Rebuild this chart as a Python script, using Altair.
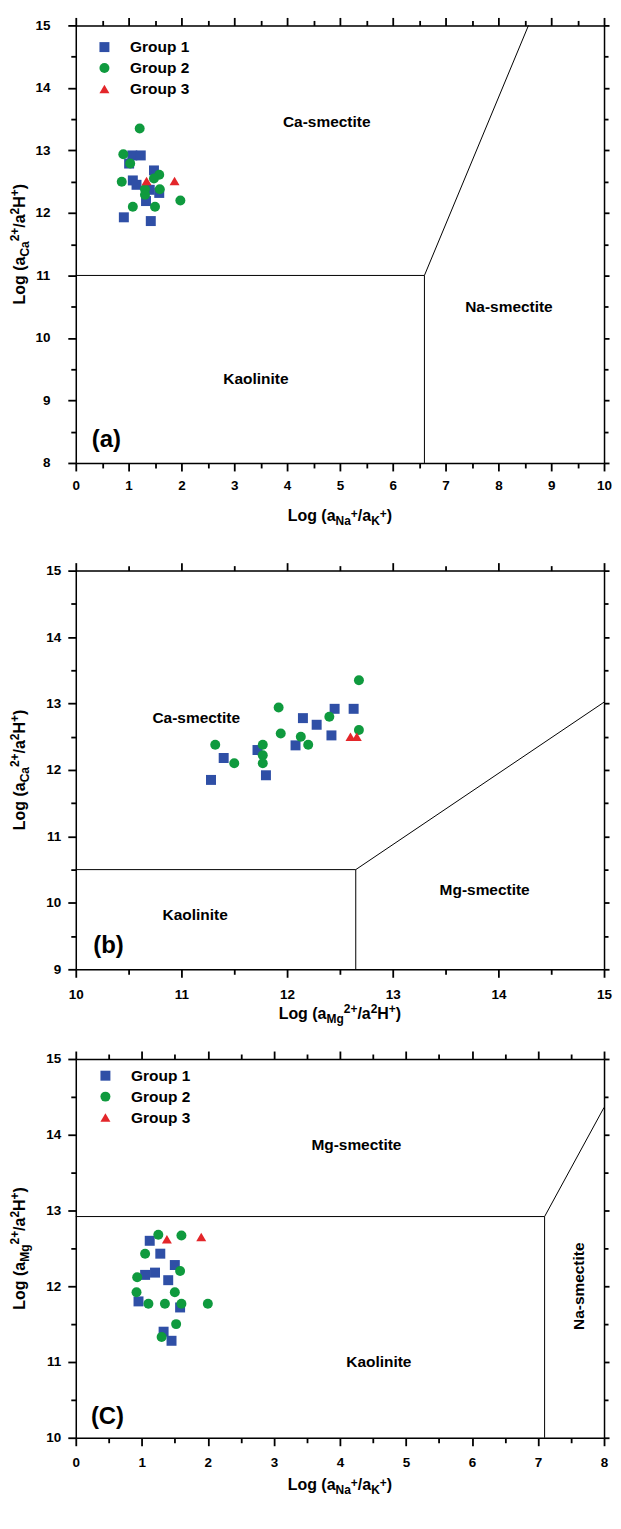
import altair as alt
import pandas as pd

FONT = "Liberation Sans"
BLUE = "#2F4FA6"
GREEN = "#0F9A3E"
RED = "#E3262A"
GROUPS = ["Group 1", "Group 2", "Group 3"]

# ---------------- Panel (a): Log(aNa/aK) vs Log(aCa/aH2) ----------------
a_g1_x = [1.07, 1.23, 1.01, 1.48, 1.08, 1.15, 1.40, 1.58, 1.33, 0.91, 1.42]
a_g1_y = [12.92, 12.92, 12.79, 12.68, 12.52, 12.45, 12.37, 12.32, 12.19, 11.93, 11.87]
a_g2_x = [1.21, 0.90, 1.03, 1.58, 1.48, 0.87, 1.59, 1.31, 1.31, 1.98, 1.08, 1.50]
a_g2_y = [13.35, 12.94, 12.79, 12.61, 12.55, 12.50, 12.38, 12.38, 12.29, 12.20, 12.10, 12.10]
a_g3_x = [1.34, 1.87]
a_g3_y = [12.51, 12.51]
a_bound_seg = ["s1", "s1", "s1", "s2", "s2"]
a_bound_x = [0, 6.6, 8.57, 6.6, 6.6]
a_bound_y = [11, 11, 15, 8, 11]
a_lab_text = ["Ca-smectite", "Na-smectite", "Kaolinite"]
a_lab_x = [4.75, 8.2, 3.41]
a_lab_y = [13.45, 10.5, 9.35]
a_tag = ["(a)", 0.58, 8.37]

# ---------------- Panel (b): Log(aMg/aH2) vs Log(aCa/aH2) ----------------
b_g1_x = [11.28, 11.40, 11.72, 11.80, 12.08, 12.15, 12.28, 12.42, 12.45, 12.63]
b_g1_y = [11.85, 12.18, 12.30, 11.92, 12.37, 12.78, 12.68, 12.52, 12.92, 12.92]
b_g2_x = [12.68, 11.92, 12.40, 12.68, 11.94, 12.13, 11.32, 11.77, 12.20, 11.77, 11.50, 11.77]
b_g2_y = [13.35, 12.94, 12.80, 12.60, 12.55, 12.50, 12.38, 12.38, 12.38, 12.22, 12.10, 12.10]
b_g3_x = [12.60, 12.66]
b_g3_y = [12.50, 12.50]
b_bound_seg = ["s1", "s1", "s1", "s2", "s2"]
b_bound_x = [10, 12.65, 15, 12.65, 12.65]
b_bound_y = [10.5, 10.5, 13.02, 9, 10.5]
b_lab_text = ["Ca-smectite", "Mg-smectite", "Kaolinite"]
b_lab_x = [11.14, 13.87, 11.13]
b_lab_y = [12.78, 10.2, 9.82]
b_tag = ["(b)", 10.31, 9.35]

# ---------------- Panel (c): Log(aNa/aK) vs Log(aMg/aH2) ----------------
c_g1_x = [1.12, 1.28, 1.50, 1.20, 1.05, 1.40, 0.95, 1.58, 1.33, 1.45]
c_g1_y = [12.60, 12.43, 12.28, 12.18, 12.15, 12.08, 11.80, 11.72, 11.40, 11.28]
c_g2_x = [1.25, 1.60, 1.05, 1.58, 0.93, 0.92, 1.50, 1.10, 1.35, 1.60, 2.00, 1.52, 1.30]
c_g2_y = [12.68, 12.67, 12.43, 12.20, 12.12, 11.92, 11.92, 11.77, 11.77, 11.77, 11.77, 11.50, 11.33]
c_g3_x = [1.38, 1.90]
c_g3_y = [12.62, 12.65]
c_bound_seg = ["s1", "s1", "s1", "s2", "s2"]
c_bound_x = [0, 7.1, 8, 7.1, 7.1]
c_bound_y = [12.92, 12.92, 14.36, 10, 12.92]
c_lab_text = ["Mg-smectite", "Kaolinite"]
c_lab_x = [4.25, 4.59]
c_lab_y = [13.87, 11.0]
c_vlab = ["Na-smectite", 7.62, 12.0]
c_tag = ["(C)", 0.48, 10.28]

# Arial/Liberation Sans Bold advance widths (1/1000 em)
ADV = {' ': 278, '(': 333, ')': 333, '+': 584, '/': 278, '2': 556, 'a': 556, 'g': 611,
       'o': 611, 'L': 611, 'N': 722, 'K': 722, 'C': 722, 'H': 722, 'M': 833}


def seg_w(t, s):
    return sum(ADV.get(ch, 600) for ch in t) * s / 1000.0


M, S = 16, 12
X_NAK = [("Log (a", M, 0), ("Na", S, 4), ("+", S, -3), ("/a", M, 0), ("K", S, 4), ("+", S, -3), (")", M, 0)]
Y_CA = [("Log (a", M, 0), ("Ca", S, 4), ("2+", S, -6), ("/a", M, 0), ("2", S, -6), ("H", M, 0),
        ("+", S, -6), (")", M, 0)]
X_MG = [("Log (a", M, 0), ("Mg", S, 4), ("2+", S, -6), ("/a", M, 0), ("2", S, -6), ("H", M, 0),
        ("+", S, -6), (")", M, 0)]


def rich(segs, x0, y0, angle=0):
    total = sum(seg_w(t, s) for t, s, _ in segs)
    off = -total / 2.0
    out = []
    for t, s, sh in segs:
        kw = dict(text=t, font=FONT, fontSize=s, fontWeight="bold", color="black",
                  align="left", baseline="alphabetic", dx=off, dy=sh)
        if angle:
            kw["angle"] = angle
        out.append(alt.Chart(alt.Data(values=[{"k": 0}])).mark_text(**kw).encode(
            x=alt.value(x0), y=alt.value(y0)))
        off += seg_w(t, s)
    return out


def axis(orient, dom, major=True, labels=False, pad=6, tick=8, domain=True):
    lo, hi = dom
    halves = [lo + 0.5 * i for i in range(int(round((hi - lo) * 2)) + 1)]
    vals = [v for v in halves if (v % 1 == 0) == major]
    kw = dict(orient=orient, values=vals, labels=labels, title=None, grid=False, domain=domain,
              ticks=True, tickSize=tick, tickColor="black", domainColor="black", tickWidth=1.8,
              domainWidth=1.5)
    if labels:
        kw.update(format="d", labelFont=FONT, labelFontWeight="bold", labelFontSize=13.5,
                  labelColor="black", labelPadding=pad, labelOverlap=False, labelFlush=False)
    return alt.Axis(**kw)


def points_df(g1x, g1y, g2x, g2y, g3x, g3y):
    rows = []
    for gx, gy, g in [(g1x, g1y, GROUPS[0]), (g2x, g2y, GROUPS[1]), (g3x, g3y, GROUPS[2])]:
        for xv, yv in zip(gx, gy):
            rows.append({"x": xv, "y": yv, "group": g})
    return pd.DataFrame(rows)


def panel(pts, bseg, bx, by, ltext, lx, ly, tag, xdom, ydom, w, h, xsegs, ysegs,
          xt_off, yt_off, ylab_pad, xlab_pad, leg_xy, vlab=None):
    xs = alt.Scale(domain=list(xdom), nice=False, zero=False)
    ys = alt.Scale(domain=list(ydom), nice=False, zero=False)
    leg = alt.Legend(orient="none", legendX=leg_xy[0], legendY=leg_xy[1], title=None,
                     labelFont=FONT, labelFontSize=15.5, labelFontWeight="bold", labelColor="black",
                     symbolSize=100, labelOffset=18, rowPadding=4, symbolStrokeWidth=0)

    def ghost(xa, ya):
        return alt.Chart(pts).mark_point(opacity=0).encode(
            x=alt.X("x:Q", scale=xs, axis=xa), y=alt.Y("y:Q", scale=ys, axis=ya))

    g_top_major = ghost(axis("top", xdom, tick=8), axis("right", ydom, tick=5))
    g_top_minor = ghost(axis("top", xdom, major=False, tick=5, domain=False),
                        axis("right", ydom, major=False, tick=4, domain=False))
    g_bot_minor = ghost(axis("bottom", xdom, major=False, tick=5, domain=False),
                        axis("left", ydom, major=False, tick=5, domain=False))
    bdf = pd.DataFrame({"seg": bseg, "x": bx, "y": by, "o": list(range(len(bx)))})
    lines = alt.Chart(bdf).mark_line(color="black", strokeWidth=1).encode(
        x=alt.X("x:Q", scale=xs, axis=axis("bottom", xdom, labels=True, pad=xlab_pad, tick=8)),
        y=alt.Y("y:Q", scale=ys, axis=axis("left", ydom, labels=True, pad=ylab_pad, tick=8)),
        detail="seg:N", order="o:Q")
    pts_layer = alt.Chart(pts).mark_point(filled=True, opacity=1, size=100).encode(
        x=alt.X("x:Q", scale=xs, axis=None), y=alt.Y("y:Q", scale=ys, axis=None),
        color=alt.Color("group:N", scale=alt.Scale(domain=GROUPS, range=[BLUE, GREEN, RED]), legend=leg),
        shape=alt.Shape("group:N", scale=alt.Scale(domain=GROUPS, range=["square", "circle", "triangle-up"]),
                        legend=leg))
    ldf = pd.DataFrame({"t": ltext, "x": lx, "y": ly})
    labs = alt.Chart(ldf).mark_text(font=FONT, fontSize=15.5, fontWeight="bold", color="black").encode(
        x=alt.X("x:Q", scale=xs, axis=None), y=alt.Y("y:Q", scale=ys, axis=None), text="t:N")
    tdf = pd.DataFrame({"t": [tag[0]], "x": [tag[1]], "y": [tag[2]]})
    tags = alt.Chart(tdf).mark_text(font=FONT, fontSize=24, fontWeight="bold", color="black").encode(
        x=alt.X("x:Q", scale=xs, axis=None), y=alt.Y("y:Q", scale=ys, axis=None), text="t:N")
    layers = [g_top_major, lines, g_top_minor, g_bot_minor, labs, tags]
    if vlab is not None:
        vdf = pd.DataFrame({"t": [vlab[0]], "x": [vlab[1]], "y": [vlab[2]]})
        layers.append(alt.Chart(vdf).mark_text(font=FONT, fontSize=15.5, fontWeight="bold", color="black",
                                               angle=270).encode(
            x=alt.X("x:Q", scale=xs, axis=None), y=alt.Y("y:Q", scale=ys, axis=None), text="t:N"))
    layers.append(pts_layer)
    layers += rich(xsegs, w / 2.0, h + xt_off)
    layers += rich(ysegs, yt_off, h / 2.0, angle=270)
    return alt.layer(*layers).resolve_axis(x="independent", y="independent").properties(width=w, height=h)


pa = panel(points_df(a_g1_x, a_g1_y, a_g2_x, a_g2_y, a_g3_x, a_g3_y),
           a_bound_seg, a_bound_x, a_bound_y, a_lab_text, a_lab_x, a_lab_y, a_tag,
           (0, 10), (8, 15), 530, 439, X_NAK, Y_CA, 58, -51, 18, 8, (21, 14))
pb = panel(points_df(b_g1_x, b_g1_y, b_g2_x, b_g2_y, b_g3_x, b_g3_y),
           b_bound_seg, b_bound_x, b_bound_y, b_lab_text, b_lab_x, b_lab_y, b_tag,
           (10, 15), (9, 15), 530, 400, X_MG, Y_CA, 50, -51, 7, 10, (22, 9))
pc = panel(points_df(c_g1_x, c_g1_y, c_g2_x, c_g2_y, c_g3_x, c_g3_y),
           c_bound_seg, c_bound_x, c_bound_y, c_lab_text, c_lab_x, c_lab_y, c_tag,
           (0, 8), (10, 15), 530, 380, X_NAK, X_MG, 52, -51, 7, 10, (22, 9), vlab=c_vlab)

top = alt.vconcat(pa, pb, spacing=33)
chart = alt.vconcat(top, pc, spacing=23).resolve_scale(
    x="independent", y="independent", color="independent", shape="independent"
).resolve_legend(color="independent", shape="independent").configure_view(stroke=None).configure(
    background="white").properties(padding={"left": 0, "top": 5, "right": 0, "bottom": 5})

chart.save("out.html", embed_options={"renderer": "svg", "actions": False})
